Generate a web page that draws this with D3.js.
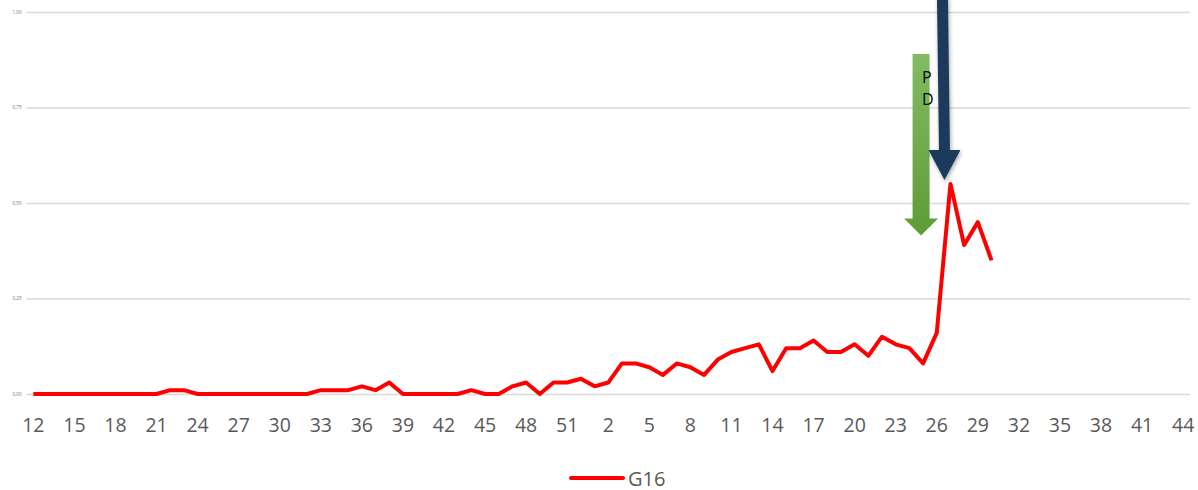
<!DOCTYPE html>
<html>
<head>
<meta charset="utf-8">
<script src="https://cdn.jsdelivr.net/npm/d3@7"></script>
<style>
  body { margin: 0; background: #fff; }
  svg { display: block; font-family: "Open Sans", sans-serif; }
</style>
</head>
<body>
<svg id="chart" width="1198" height="490"></svg>
<script>
// week numbers, year 1 then year 2
const weeksYear1 = [12,13,14,15,16,17,18,19,20,21,22,23,24,25,26,27,28,29,30,31,32,
  33,34,35,36,37,38,39,40,41,42,43,44,45,46,47,48,49,50,51,52];
const weeksYear2 = [1,2,3,4,5,6,7,8,9,10,11,12,13,14,15,16,17,18,19,20,21,22,
  23,24,25,26,27,28,29,30,31,32,33,34,35,36,37,38,39,40,41,42,43,44];

const valuesYear1 = [0,0,0,0,0,0,0,0,0,0, 0.01,0.01, 0,0,0,0,0,0,0,0,0,
  0.01,0.01,0.01,0.02,0.01,0.03, 0,0,0,0,0, 0.01,0,0,0.02,0.03,0,0.03,0.03,0.04];
const valuesYear2 = [0.02,0.03,0.08,0.08,0.07,0.05,0.08,0.07,0.05,0.09,0.11,0.12,0.13,
  0.06,0.12,0.12,0.14,0.11,0.11,0.13,0.10,0.15,0.13,0.12,0.08,0.16,0.55,0.39,0.45,0.35];

const yTicks = [0, 0.25, 0.5, 0.75, 1];
const seriesName = "G16";

// annotation arrows (category key, start value, tip value)
const greenArrow = { cat: "2-25", from: 0.89, to: 0.415, label: ["P", "D"] };
const blueArrow = { cat: "2-27", from: 1.04, to: 0.56 };

const cats = weeksYear1.map(w => ({ key: "1-" + w, week: w }))
  .concat(weeksYear2.map(w => ({ key: "2-" + w, week: w })));
const data = valuesYear1.map((v, i) => ({ key: "1-" + weeksYear1[i], value: v }))
  .concat(valuesYear2.map((v, i) => ({ key: "2-" + weeksYear2[i], value: v })));

const svg = d3.select("#chart");
const plotLeft = 26.5, plotRight = 1190, plotTop = 12, plotBottom = 394;

const x = d3.scaleBand().domain(cats.map(c => c.key)).range([plotLeft, plotRight]);
const cx = k => x(k) + x.bandwidth() / 2;
const y = d3.scaleLinear().domain([0, 1]).range([plotBottom, plotTop]);

// grid + y labels
const yAxis = svg.append("g")
  .attr("transform", "translate(" + plotLeft + ",0)")
  .call(d3.axisLeft(y).tickValues(yTicks).tickSize(-(plotRight - plotLeft)).tickPadding(5)
    .tickFormat(d => d3.format(".2f")(d).replace(".", ",")));
yAxis.select(".domain").remove();
yAxis.selectAll("line").attr("stroke", "#d9d9d9").attr("stroke-width", 1.5);
yAxis.selectAll("text").attr("fill", "#6f6f6f").style("font-size", "4.5px")
  .style("font-family", "Open Sans, sans-serif");

// x labels
const xAxis = svg.append("g")
  .attr("transform", "translate(0," + plotBottom + ")")
  .call(d3.axisBottom(x)
    .tickValues(cats.filter((c, i) => i % 3 === 0).map(c => c.key))
    .tickSize(0).tickPadding(24)
    .tickFormat(k => k.split("-")[1]));
xAxis.select(".domain").remove();
xAxis.selectAll("text").attr("fill", "#595959").style("font-size", "19.5px")
  .style("font-family", "Open Sans, sans-serif");

// series line
const line = d3.line().x(d => cx(d.key)).y(d => y(d.value));
svg.append("path")
  .datum(data)
  .attr("fill", "none")
  .attr("stroke", "#ff0000")
  .attr("stroke-width", 4)
  .attr("stroke-linejoin", "round")
  .attr("d", line);

// arrows
const defs = svg.append("defs");
const grad = defs.append("linearGradient").attr("id", "greenGrad")
  .attr("x1", 0).attr("y1", 0).attr("x2", 0).attr("y2", 1);
grad.append("stop").attr("offset", "0%").attr("stop-color", "#82bb63");
grad.append("stop").attr("offset", "100%").attr("stop-color", "#5e9c36");

const shadow = defs.append("filter").attr("id", "shadow")
  .attr("x", "-50%").attr("y", "-10%").attr("width", "200%").attr("height", "130%");
shadow.append("feDropShadow").attr("dx", 1).attr("dy", 2).attr("stdDeviation", 2)
  .attr("flood-color", "#000").attr("flood-opacity", 0.35);

function arrowPath(xTop, xTip, yTop, yTip, shaft, head, headLen) {
  const yNeck = yTip - headLen;
  const xNeck = xTip;
  const s = shaft / 2, h = head / 2;
  return "M" + (xTop - s) + "," + yTop + "L" + (xTop + s) + "," + yTop +
    "L" + (xNeck + s) + "," + yNeck + "L" + (xNeck + h) + "," + yNeck +
    "L" + xTip + "," + yTip + "L" + (xNeck - h) + "," + yNeck +
    "L" + (xNeck - s) + "," + yNeck + "Z";
}

const gx = cx(greenArrow.cat) - 2;
svg.append("path")
  .attr("d", arrowPath(gx, gx, y(greenArrow.from), y(greenArrow.to), 17, 34, 17))
  .attr("fill", "url(#greenGrad)");

svg.append("text")
  .selectAll("tspan")
  .data(greenArrow.label).enter()
  .append("tspan")
  .attr("x", gx + 1)
  .attr("y", (d, i) => y(greenArrow.from) + 29 + i * 22)
  .style("font-size", "16px")
  .attr("fill", "#000")
  .text(d => d);

const bx = cx(blueArrow.cat) - 6;
svg.append("path")
  .attr("d", arrowPath(bx - 2, bx, y(blueArrow.from), y(blueArrow.to), 11, 32, 30))
  .attr("fill", "#1f3b5b")
  .attr("filter", "url(#shadow)");

// legend
const legend = svg.append("g").attr("transform", "translate(571,478)");
legend.append("line").attr("x1", 0).attr("x2", 52)
  .attr("stroke", "#ff0000").attr("stroke-width", 4).attr("stroke-linecap", "round");
legend.append("text").attr("x", 57).attr("y", 0)
  .attr("dominant-baseline", "central")
  .attr("fill", "#595959").style("font-size", "20px").text(seriesName);
</script>
</body>
</html>
